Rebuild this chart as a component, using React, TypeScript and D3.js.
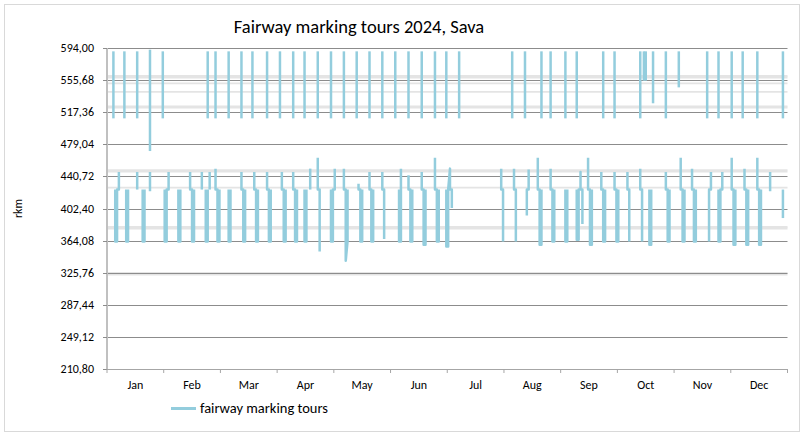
import React from 'react';
import * as d3 from 'd3';

const months = ['Jan', 'Feb', 'Mar', 'Apr', 'May', 'Jun', 'Jul', 'Aug', 'Sep', 'Oct', 'Nov', 'Dec'];
const daysInMonth = [31, 29, 31, 30, 31, 30, 31, 31, 30, 31, 30, 31];
const yTicks = [210.8, 249.12, 287.44, 325.76, 364.08, 402.4, 440.72, 479.04, 517.36, 555.68, 594];

// light reference levels behind the grid (rkm)
const lightLevels = [560.6, 558.8, 551.8, 541.7, 524.4, 522.8, 448.3, 446.5, 427.3, 380.3, 378.5, 325.6, 323.4];

// upper section tours: start date, top rkm, bottom rkm
const upperTours: [string, number, number][] = [
  ['01-04', 590, 510], ['01-10', 590, 510], ['01-17', 590, 510], ['01-24', 592, 471], ['01-31', 590, 510],
  ['02-23', 590, 510], ['02-27', 590, 510], ['03-05', 590, 510], ['03-12', 590, 510], ['03-18', 590, 510],
  ['03-26', 590, 510], ['04-02', 590, 510], ['04-09', 590, 510], ['04-15', 590, 510], ['04-22', 590, 510],
  ['04-29', 590, 510], ['05-06', 590, 510], ['05-13', 590, 510], ['05-20', 590, 510], ['05-27', 590, 510],
  ['06-03', 590, 510], ['06-10', 590, 510], ['06-17', 590, 510], ['06-24', 590, 510], ['06-30', 590, 510],
  ['07-07', 590, 510], ['08-05', 590, 510], ['08-12', 590, 510], ['08-21', 590, 510], ['08-26', 590, 510],
  ['09-03', 590, 510], ['09-09', 590, 510], ['09-23', 590, 510], ['09-29', 590, 510], ['10-13', 590, 510],
  ['10-15', 590, 555], ['10-16', 590, 555], ['10-20', 590, 528], ['10-27', 590, 510], ['11-03', 590, 547],
  ['11-18', 590, 510], ['11-24', 590, 510], ['12-01', 590, 510], ['12-07', 590, 510], ['12-15', 590, 510],
  ['12-29', 590, 510],
];

// lower section tours: start date, rkm visited on each following day
const lowerTours: [string, number[][]][] = [
  ['01-05', [[425, 363], [363, 425], [425, 446]]],
  ['01-11', [[425, 363], [363, 425]]],
  ['01-17', [[446, 425]]],
  ['01-20', [[425, 363], [363, 425]]],
  ['01-24', [[446, 423]]],
  ['02-01', [[425, 363], [363, 425], [425, 446]]],
  ['02-08', [[425, 363], [363, 425]]],
  ['02-14', [[446, 425], [425, 363], [363, 425]]],
  ['02-20', [[446, 425]]],
  ['02-22', [[425, 363], [363, 425]]],
  ['02-24', [[446, 425]]],
  ['02-27', [[450, 425], [425, 363], [363, 425]]],
  ['03-05', [[425, 363], [363, 425]]],
  ['03-12', [[446, 425], [425, 363], [363, 425]]],
  ['03-19', [[446, 425], [425, 363], [363, 425]]],
  ['03-26', [[446, 425], [425, 363], [363, 425]]],
  ['04-03', [[446, 425], [425, 363], [363, 425]]],
  ['04-09', [[446, 425], [425, 363], [363, 425]]],
  ['04-15', [[425, 363], [363, 425]]],
  ['04-18', [[450, 425]]],
  ['04-22', [[463, 425], [425, 351]]],
  ['04-29', [[425, 363], [363, 425], [425, 450]]],
  ['05-06', [[450, 425], [425, 340], [363, 425]]],
  ['05-14', [[432, 425], [425, 363], [363, 425]]],
  ['05-20', [[446, 425], [425, 363], [363, 425]]],
  ['05-27', [[446, 425], [425, 366]]],
  ['06-05', [[425, 363], [363, 450]]],
  ['06-10', [[442, 425], [425, 363], [363, 425]]],
  ['06-17', [[446, 425], [425, 359], [359, 425]]],
  ['06-24', [[463, 425], [425, 363], [363, 425]]],
  ['06-30', [[425, 357], [357, 425], [450, 425], [425, 403]]],
  ['07-30', [[450, 425], [425, 363]]],
  ['08-06', [[450, 425], [425, 363]]],
  ['08-13', [[394, 425], [425, 449]]],
  ['08-19', [[463, 425], [425, 359], [359, 425]]],
  ['08-26', [[450, 425], [425, 363], [363, 425]]],
  ['09-03', [[425, 363], [363, 425]]],
  ['09-09', [[425, 365], [365, 425], [425, 446, 425], [425, 384]]],
  ['09-15', [[463, 425], [425, 359], [359, 425]]],
  ['09-22', [[446, 425], [425, 363], [363, 425]]],
  ['09-29', [[446, 425], [425, 363], [363, 425]]],
  ['10-06', [[446, 425], [425, 363]]],
  ['10-13', [[450, 425], [425, 363]]],
  ['10-18', [[425, 359], [359, 425]]],
  ['10-27', [[446, 425], [425, 363], [363, 425]]],
  ['11-04', [[463, 425], [425, 363], [363, 425]]],
  ['11-10', [[450, 425], [425, 363], [363, 425]]],
  ['11-19', [[363, 425], [425, 446]]],
  ['11-24', [[425, 363], [363, 425], [425, 446]]],
  ['12-01', [[463, 425], [425, 359], [359, 425]]],
  ['12-08', [[450, 425], [425, 359], [359, 425]]],
  ['12-15', [[463, 425], [425, 359], [359, 425]]],
  ['12-22', [[446, 423]]],
  ['12-29', [[425, 391]]],
];

const W = 804;
const H = 436;
const font = 'Carlito, Calibri, Lato, sans-serif';
const lineColor = '#93CDDD';

const x = d3.scaleLinear().domain([0, 12]).range([107, 787.5]);
const y = d3.scaleLinear().domain([210.8, 594]).range([369, 48]);

const dateX = (dt: Date) => {
  const m = dt.getMonth();
  return x(m + (dt.getDate() - 0.5) / daysInMonth[m]);
};

const tourPoints = (start: string, days: number[][]) => {
  const [mm, dd] = start.split('-').map(Number);
  const pts: [number, number][] = [];
  days.forEach((day, i) => {
    const dt = new Date(2024, mm - 1, dd + i);
    day.forEach((r) => pts.push([dateX(dt), y(r)]));
  });
  return pts;
};

const line = d3.line();
const fmt = (v: number) => d3.format('.2f')(v).replace('.', ',');

export default function App() {
  const tours = [
    ...upperTours.map(([s, top, bottom]) => tourPoints(s, [[top, bottom]])),
    ...lowerTours.map(([s, days]) => tourPoints(s, days)),
  ];

  return (
    <svg width={W} height={H} style={{ position: 'absolute', left: 0, top: 0, fontFamily: font }}>
      <rect x={0} y={0} width={W} height={H} fill="#fff" />
      <rect x={4.5} y={4.5} width={795} height={427} fill="#fff" stroke="#d9d9d9" />

      <text x={359} y={33} textAnchor="middle" fontSize={18.5} fill="#000">
        Fairway marking tours 2024, Sava
      </text>

      {lightLevels.map((v, i) => (
        <line key={'l' + i} x1={x(0)} x2={x(12)} y1={y(v)} y2={y(v)} stroke="#e4e4e4" strokeWidth={1.8} />
      ))}

      {yTicks.slice(1).map((v) => (
        <line key={'g' + v} x1={x(0)} x2={x(12)} y1={Math.round(y(v)) + 0.5} y2={Math.round(y(v)) + 0.5} stroke="#8c8c8c" />
      ))}

      {/* y axis */}
      <line x1={x(0)} x2={x(0)} y1={y(594)} y2={y(210.8)} stroke="#c0c0c0" strokeWidth={2} />
      {yTicks.map((v) => (
        <g key={'t' + v}>
          <line x1={x(0) - 4} x2={x(0)} y1={Math.round(y(v)) + 0.5} y2={Math.round(y(v)) + 0.5} stroke="#8c8c8c" />
          <text x={94} y={y(v) + 4} textAnchor="end" fontSize={12} fill="#000">
            {fmt(v)}
          </text>
        </g>
      ))}

      {/* x axis */}
      <line x1={x(0)} x2={x(12)} y1={Math.round(y(210.8)) + 0.5} y2={Math.round(y(210.8)) + 0.5} stroke="#a6a6a6" />
      {d3.range(13).map((m) => (
        <line key={'xt' + m} x1={x(m)} x2={x(m)} y1={y(210.8)} y2={y(210.8) + 4} stroke="#a6a6a6" />
      ))}
      {months.map((mo, m) => (
        <text key={mo} x={x(m + 0.5)} y={389} textAnchor="middle" fontSize={12} fill="#000">
          {mo}
        </text>
      ))}

      <text transform={`translate(22,${y(402.4)}) rotate(-90)`} textAnchor="middle" fontSize={12} fill="#000">
        rkm
      </text>

      {tours.map((pts, i) => (
        <path
          key={'tour' + i}
          d={line(pts) || ''}
          fill="none"
          stroke={lineColor}
          strokeWidth={2.5}
          strokeLinejoin="round"
        />
      ))}

      {/* legend */}
      <line x1={171} x2={196} y1={408.5} y2={408.5} stroke={lineColor} strokeWidth={3} />
      <text x={200} y={413} fontSize={14.5} fill="#000">
        fairway marking tours
      </text>
    </svg>
  );
}
